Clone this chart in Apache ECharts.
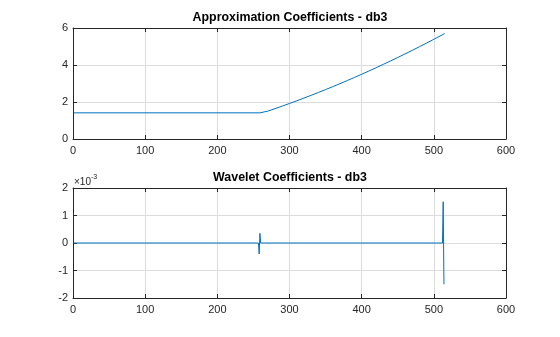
<!DOCTYPE html>
<html>
<head>
<meta charset="utf-8">
<script src="https://cdn.jsdelivr.net/npm/echarts@6/dist/echarts.min.js"></script>
<style>
  html, body { margin: 0; padding: 0; background: #fff; }
  #chart { width: 560px; height: 337px; }
</style>
</head>
<body>
<div id="chart"></div>
<script>
// Approximation coefficients (cA) of a db3 decomposition
const approxX = [1, 259, 260, 270, 280, 290, 300, 310, 320, 330, 340, 350, 360, 370, 380, 390,
                 400, 410, 420, 430, 440, 450, 460, 470, 480, 490, 500, 510, 515];
const approxY = [1.414, 1.414, 1.42, 1.506, 1.641, 1.779, 1.92, 2.064, 2.211, 2.361, 2.515, 2.671,
                 2.831, 2.993, 3.159, 3.328, 3.50, 3.675, 3.853, 4.035, 4.219, 4.406, 4.597, 4.790,
                 4.987, 5.187, 5.39, 5.596, 5.70];

// Detail (wavelet) coefficients (cD): zero except two short bursts
const detailX = [1, 257, 258, 259, 260, 512, 513, 514];
const detailY = [0, 0, -0.0004, 0.00035, 0, 0, 0.0015, -0.0015];

// Axis ticks
const xTicks = [0, 100, 200, 300, 400, 500, 600];
const approxYTicks = [0, 2, 4, 6];
const detailYTicks = [-2, -1, 0, 1, 2];   // in units of 1e-3

const titles = ['Approximation Coefficients - db3', 'Wavelet Coefficients - db3'];

const toPairs = (xs, ys) => xs.map((x, i) => [x, ys[i]]);

const FONT = 'Liberation Sans, Arial, Helvetica, sans-serif';
const INK = '#262626';
const GRIDLINE = '#dcdcdc';
const BLUE = '#0072BD';

const grids = [
  { left: 73, right: 54, top: 28, height: 111 },
  { left: 73, right: 54, top: 188, height: 110 }
];

function mainX(gridIndex) {
  return {
    type: 'value', gridIndex, min: xTicks[0], max: xTicks[xTicks.length - 1], interval: 100,
    axisLine: { show: true, onZero: false, lineStyle: { color: INK, width: 1 } },
    axisTick: { show: true, inside: true, length: 4, lineStyle: { color: INK } },
    axisLabel: { color: INK, fontSize: 11, fontFamily: FONT, margin: 6 },
    splitLine: { show: true, lineStyle: { color: GRIDLINE, width: 1 } }
  };
}
function mirrorX(gridIndex) {
  return {
    type: 'value', gridIndex, position: 'top', min: xTicks[0], max: xTicks[xTicks.length - 1], interval: 100,
    axisLine: { show: true, onZero: false, lineStyle: { color: INK, width: 1 } },
    axisTick: { show: true, inside: true, length: 4, lineStyle: { color: INK } },
    axisLabel: { show: false }, splitLine: { show: false }
  };
}
function mainY(gridIndex, ticks) {
  return {
    type: 'value', gridIndex, min: ticks[0], max: ticks[ticks.length - 1],
    interval: ticks[1] - ticks[0],
    axisLine: { show: true, onZero: false, lineStyle: { color: INK, width: 1 } },
    axisTick: { show: true, inside: true, length: 4, lineStyle: { color: INK } },
    axisLabel: { color: INK, fontSize: 11, fontFamily: FONT, margin: 5 },
    splitLine: { show: true, lineStyle: { color: GRIDLINE, width: 1 } }
  };
}
function mirrorY(gridIndex, ticks) {
  return {
    type: 'value', gridIndex, position: 'right', min: ticks[0], max: ticks[ticks.length - 1],
    interval: ticks[1] - ticks[0],
    axisLine: { show: true, onZero: false, lineStyle: { color: INK, width: 1 } },
    axisTick: { show: true, inside: true, length: 4, lineStyle: { color: INK } },
    axisLabel: { show: false }, splitLine: { show: false }
  };
}

const detailScaled = detailY.map(v => v * 1000);   // plotted against the ×10^-3 axis

const chart = echarts.init(document.getElementById('chart'), null, { renderer: 'canvas' });
chart.setOption({
  animation: false,
  backgroundColor: '#ffffff',
  grid: grids,
  xAxis: [mainX(0), mirrorX(0), mainX(1), mirrorX(1)],
  yAxis: [
    mainY(0, approxYTicks), mirrorY(0, approxYTicks),
    mainY(1, detailYTicks), mirrorY(1, detailYTicks)
  ],
  series: [
    {
      type: 'line', xAxisIndex: 0, yAxisIndex: 0,
      data: toPairs(approxX, approxY),
      showSymbol: false, lineStyle: { color: BLUE, width: 1 }, z: 3
    },
    {
      type: 'line', xAxisIndex: 2, yAxisIndex: 2,
      data: toPairs(detailX, detailScaled),
      showSymbol: false, lineStyle: { color: BLUE, width: 1 }, z: 3
    }
  ],
  graphic: [
    {
      type: 'text', x: 290, y: 12,
      style: { text: titles[0], font: 'bold 12.4px ' + FONT, fill: '#000', textAlign: 'center' }
    },
    {
      type: 'text', x: 290, y: 172,
      style: { text: titles[1], font: 'bold 12.4px ' + FONT, fill: '#000', textAlign: 'center' }
    },
    {
      type: 'text', x: 74, y: 177,
      style: { text: '×10', font: '10px ' + FONT, fill: INK }
    },
    {
      type: 'text', x: 91, y: 174,
      style: { text: '-3', font: '7px ' + FONT, fill: INK }
    }
  ]
});
</script>
</body>
</html>
